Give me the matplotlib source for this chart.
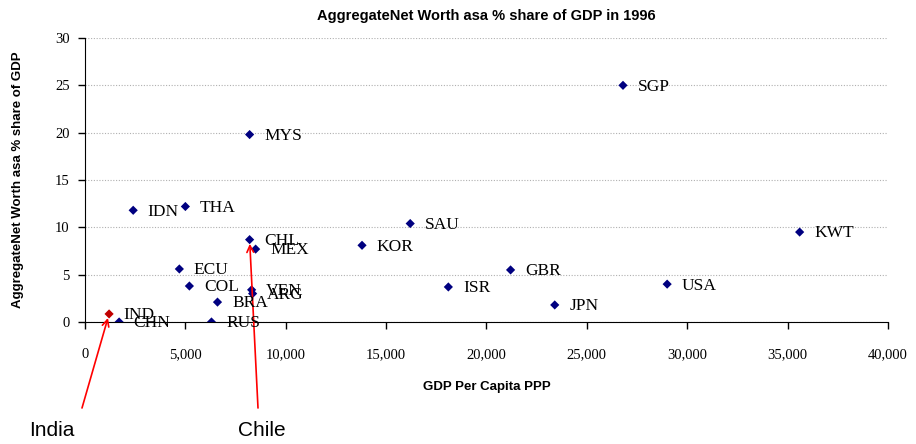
import matplotlib.pyplot as plt

# Data
countries = ["SGP", "MYS", "IDN", "THA", "SAU", "KWT", "CHL", "MEX", "KOR", "ECU",
             "GBR", "COL", "ISR", "USA", "VEN", "ARG", "BRA", "JPN", "IND", "CHN", "RUS"]
gdp_pc = [26800, 8200, 2400, 5000, 16200, 35600, 8200, 8500, 13800, 4700,
          21200, 5200, 18100, 29000, 8300, 8350, 6600, 23400, 1200, 1700, 6300]
net_worth = [25.0, 19.8, 11.8, 12.2, 10.4, 9.5, 8.7, 7.7, 8.1, 5.6,
             5.5, 3.8, 3.7, 4.0, 3.4, 3.0, 2.1, 1.8, 0.85, 0.0, 0.0]

callouts = [("India", "IND"), ("Chile", "CHL")]

fig = plt.figure(figsize=(9.16, 4.44), dpi=100)
ax = fig.add_axes([0.0928, 0.2748, 0.8766, 0.6396])

colors = ["#c00000" if c == "IND" else "#000080" for c in countries]
ax.scatter(gdp_pc, net_worth, marker="D", s=22, c=colors, zorder=3, linewidths=0)

for name, x, y in zip(countries, gdp_pc, net_worth):
    ax.annotate(name, (x, y), xytext=(10.5, -1), textcoords="offset points",
                fontsize=12.5, family="Liberation Serif", va="center", zorder=4)

ax.set_xlim(0, 40000)
ax.set_ylim(0, 30)
ax.set_xticks(range(0, 40001, 5000))
ax.set_xticklabels([f"{v:,}" for v in range(0, 40001, 5000)])
ax.set_yticks(range(0, 31, 5))
for lbl in ax.get_xticklabels() + ax.get_yticklabels():
    lbl.set_family("Liberation Serif")
    lbl.set_fontsize(10.5)
ax.tick_params(axis="x", direction="out", length=5, width=1, pad=14)
ax.tick_params(axis="y", direction="out", length=5, width=1, pad=6)
ax.grid(axis="y", linestyle=(0, (1, 1.5)), color="#b0b0b0", linewidth=0.8)
ax.set_axisbelow(True)
for s in ["top", "right"]:
    ax.spines[s].set_visible(False)

ax.set_title("AggregateNet Worth asa % share of GDP in 1996", fontsize=10.5,
             fontweight="bold", family="Liberation Sans", pad=13)
ax.set_xlabel("GDP Per Capita PPP", fontsize=9.5, fontweight="bold",
              family="Liberation Sans", labelpad=14)
ax.set_ylabel("AggregateNet Worth asa % share of GDP", fontsize=9.5,
              fontweight="bold", family="Liberation Sans", labelpad=22)

# Red callout arrows
text_pos = {"India": (52, 430), "Chile": (262, 430)}
tail_pos = {"India": (82, 408), "Chile": (258, 408)}
for label, code in callouts:
    i = countries.index(code)
    tx, ty = text_pos[label]
    fig.text(tx / 916, 1 - ty / 444, label, fontsize=15, family="Liberation Sans",
             ha="center", va="center")
    ax.annotate("", xy=(gdp_pc[i], net_worth[i]), xycoords="data",
                xytext=(tail_pos[label][0] / 916, 1 - tail_pos[label][1] / 444),
                textcoords="figure fraction",
                arrowprops=dict(arrowstyle="->", color="red", lw=1.2,
                                shrinkA=0, shrinkB=3, mutation_scale=12),
                annotation_clip=False)

fig.savefig("out.png", dpi=100)
